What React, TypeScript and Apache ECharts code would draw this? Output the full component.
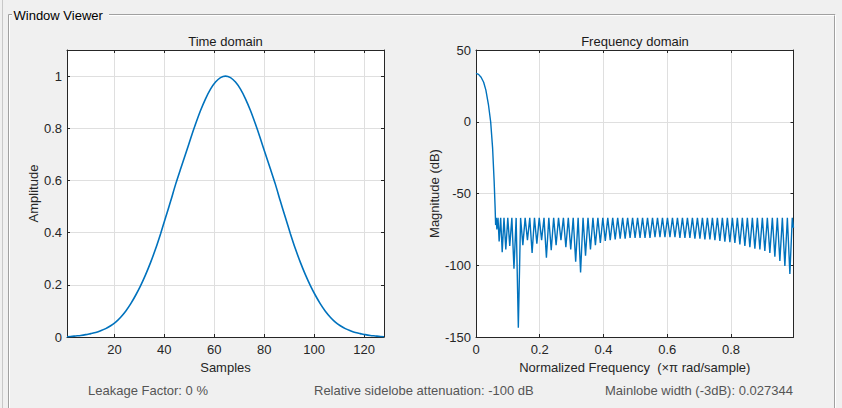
import React, { useEffect, useRef } from "react";
import * as echarts from "echarts";

// ---------- data ----------
const timeSamples = [
  1, 2.5, 4.5, 6.5, 8.5, 10.5, 12.5, 14.5, 16.5, 18.5, 20.5, 22.5, 24.5, 26.5, 28.5, 30.5, 32.5,
  34.5, 36.5, 38.5, 40.5, 42.5, 44.5, 46.5, 48.5, 50.5, 52.5, 54.5, 56.5, 58.5, 60.5, 62.5, 64.5,
  66.5, 68.5, 70.5, 72.5, 74.5, 76.5, 78.5, 80.5, 82.5, 84.5, 86.5, 88.5, 90.5, 92.5, 94.5, 96.5,
  98.5, 100.5, 102.5, 104.5, 106.5, 108.5, 110.5, 112.5, 114.5, 116.5, 118.5, 120.5, 122.5, 124.5, 126.5, 128,
];
const timeAmplitude = [
  0.001, 0.002, 0.004, 0.006, 0.009, 0.013, 0.017, 0.024, 0.032, 0.043, 0.057, 0.076, 0.099, 0.127, 0.16, 0.197, 0.239,
  0.286, 0.338, 0.396, 0.458, 0.52, 0.585, 0.644, 0.701, 0.76, 0.816, 0.868, 0.913, 0.95, 0.977, 0.994, 1.0,
  0.994, 0.977, 0.95, 0.913, 0.868, 0.816, 0.76, 0.701, 0.644, 0.585, 0.52, 0.458, 0.396, 0.338, 0.286, 0.239,
  0.197, 0.16, 0.127, 0.099, 0.076, 0.057, 0.043, 0.032, 0.024, 0.017, 0.013, 0.009, 0.006, 0.004, 0.002, 0.001,
];

const mainLobeFreq = [0, 0.008, 0.016, 0.024, 0.031, 0.039, 0.046, 0.052, 0.057, 0.06];
const mainLobeDb = [33.7, 33, 31, 27.5, 22, 12, 0, -18, -42, -60];

const sidelobeNullFreq = [
  0.0616, 0.0655, 0.0726, 0.0822, 0.0935, 0.1059, 0.1191, 0.1328, 0.147, 0.1614,
  0.176, 0.1909, 0.2058, 0.2209, 0.236, 0.2513, 0.2665, 0.2819, 0.2972, 0.3127,
  0.3281, 0.3436, 0.3591, 0.3746, 0.3901, 0.4056, 0.4211, 0.4367, 0.4523, 0.4679,
  0.4834, 0.4991, 0.5147, 0.5303, 0.5459, 0.5616, 0.5772, 0.5928, 0.6085, 0.6242,
  0.6398, 0.6555, 0.6711, 0.6868, 0.7025, 0.7181, 0.7338, 0.7495, 0.7651, 0.7808,
  0.7965, 0.8122, 0.8278, 0.8435, 0.8592, 0.8749, 0.8906, 0.9062, 0.9219, 0.9376,
  0.9533, 0.969, 0.9847,
];
const sidelobeNullDb = [
  -72, -75, -83.5, -91, -89, -86.5, -102.5, -143.5, -86, -82.5,
  -91.5, -85, -82.5, -94.7, -89.5, -86, -82.5, -87.5, -89, -97.5,
  -105, -93.3, -89, -86, -84.5, -83, -82.5, -82, -81.5, -81.5,
  -81, -81, -81, -81, -81, -80.5, -80.5, -80.5, -80.5, -80.5,
  -81, -81, -81, -81.5, -81.5, -82, -82, -82.5, -83, -83.5,
  -84, -84.5, -85.5, -86.5, -87.5, -88.5, -89, -90, -91.5, -94,
  -97, -100.5, -106,
];
const sidelobePeakDb = -67;
const tailFreq = [0.9923, 0.99609375];
const tailDb = [-67, -74];

const timeTicks = { min: 1, max: 128 };
const freqTicks = { min: 0, max: 0.99609375, interval: 0.2 };
const ampTicks = { min: 0, max: 1.1, interval: 0.2 };
const dbTicks = { min: -150, max: 50, interval: 50 };

const infoTexts = [
  "Leakage Factor: 0 %",
  "Relative sidelobe attenuation: -100 dB",
  "Mainlobe width (-3dB): 0.027344",
];

// ---------- styles ----------
const FONT = '"Liberation Sans", Arial, sans-serif';
const AX = "#262626";
const GRIDC = "#dfdfdf";
const LINE = "#0072bd";

function buildOption() {
  const timeData = timeSamples.map((s, i) => [s, timeAmplitude[i]]);
  const freqData: number[][] = [];
  mainLobeFreq.forEach((f, i) => freqData.push([f, mainLobeDb[i]]));
  sidelobeNullFreq.forEach((f, i) => {
    freqData.push([f, sidelobeNullDb[i]]);
    if (i + 1 < sidelobeNullFreq.length) {
      freqData.push([(f + sidelobeNullFreq[i + 1]) / 2, sidelobePeakDb]);
    }
  });
  tailFreq.forEach((f, i) => freqData.push([f, tailDb[i]]));

  const labelStyle = { color: AX, fontSize: 13, fontFamily: FONT };
  const axisLine = { show: true, onZero: false, lineStyle: { color: AX, width: 1 } };
  const axisTick = { show: true, inside: true, length: 3, lineStyle: { color: AX, width: 1 } };
  const splitLine = { show: true, lineStyle: { color: GRIDC, width: 1 } };
  const nameStyle = { color: AX, fontSize: 13, fontFamily: FONT };

  const mkAxis = (grid: number, pos: string, extra: any, main: boolean, labelExtra: any, margin: number) => ({
    type: "value",
    gridIndex: grid,
    position: pos,
    ...extra,
    axisLine,
    axisTick,
    axisLabel: main ? { ...labelStyle, margin, ...labelExtra } : { show: false },
    splitLine: main ? splitLine : { show: false },
  });

  const timeX = { min: timeTicks.min, max: timeTicks.max, splitNumber: 6, minInterval: 20, maxInterval: 20 };
  const freqX = { ...freqTicks };
  const ampY = { ...ampTicks };
  const dbY = { ...dbTicks };

  const xAxis = [
    { ...mkAxis(0, "bottom", timeX, true, { showMinLabel: false, showMaxLabel: false }, 6), name: "Samples", nameLocation: "middle", nameGap: 23, nameTextStyle: nameStyle },
    mkAxis(0, "top", timeX, false, {}, 6),
    { ...mkAxis(1, "bottom", freqX, true, { showMaxLabel: false }, 6), name: "Normalized Frequency  (\u00d7\u03c0 rad/sample)", nameLocation: "middle", nameGap: 23, nameTextStyle: nameStyle },
    mkAxis(1, "top", freqX, false, {}, 6),
  ];
  const yAxis = [
    { ...mkAxis(0, "left", ampY, true, { showMaxLabel: false }, 5), name: "Amplitude", nameLocation: "middle", nameGap: 19, nameTextStyle: nameStyle },
    mkAxis(0, "right", ampY, false, {}, 5),
    { ...mkAxis(1, "left", dbY, true, {}, 5), name: "Magnitude (dB)", nameLocation: "middle", nameGap: 30, nameTextStyle: nameStyle },
    mkAxis(1, "right", dbY, false, {}, 5),
  ];

  const txt = (text: string, x: number, y: number, fill: string, align = "left") => ({
    type: "text",
    x,
    y,
    silent: true,
    style: { text, fill, font: `13px ${FONT}`, align, verticalAlign: "middle" },
  });
  const ln = (x1: number, y1: number, x2: number, y2: number, stroke: string) => ({
    type: "line",
    silent: true,
    shape: { x1, y1, x2, y2 },
    style: { stroke, lineWidth: 1 },
  });

  const graphic = [
    // panel etched border
    ln(8.5, 14.5, 12, 14.5, "#a0a0a0"),
    ln(109, 14.5, 835.5, 14.5, "#a0a0a0"),
    ln(9.5, 15.5, 12, 15.5, "#ffffff"),
    ln(109, 15.5, 834.5, 15.5, "#ffffff"),
    ln(8.5, 14.5, 8.5, 408, "#a0a0a0"),
    ln(9.5, 15.5, 9.5, 408, "#ffffff"),
    ln(834.5, 15.5, 834.5, 408, "#a0a0a0"),
    ln(835.5, 14.5, 835.5, 408, "#ffffff"),
    ln(2.5, 0, 2.5, 408, "#c8c8c8"),
    txt("Window Viewer", 13.5, 15, "#000000"),
    txt("Time domain", 225.5, 41, "#1a1a1a", "center"),
    txt("Frequency domain", 635, 41, "#1a1a1a", "center"),
    txt(infoTexts[0], 88, 390, "#555555"),
    txt(infoTexts[1], 314, 390, "#555555"),
    txt(infoTexts[2], 605, 390, "#555555"),
  ];

  return {
    animation: false,
    backgroundColor: "#f0f0f0",
    grid: [
      { left: 67, top: 50, width: 317, height: 287, show: true, backgroundColor: "#ffffff", borderWidth: 0, containLabel: false, outerBoundsMode: "none" },
      { left: 476, top: 50, width: 317.5, height: 287, show: true, backgroundColor: "#ffffff", borderWidth: 0, containLabel: false, outerBoundsMode: "none" },
    ],
    xAxis,
    yAxis,
    series: [
      {
        type: "line",
        xAxisIndex: 0,
        yAxisIndex: 0,
        data: timeData,
        showSymbol: false,
        smooth: 0.3,
        lineStyle: { color: LINE, width: 1.6 },
        clip: true,
      },
      {
        type: "line",
        xAxisIndex: 2,
        yAxisIndex: 2,
        data: freqData,
        showSymbol: false,
        lineStyle: { color: LINE, width: 1.4 },
        clip: true,
      },
    ],
    graphic,
  };
}

export default function App() {
  const ref = useRef<HTMLDivElement>(null);
  useEffect(() => {
    if (!ref.current) return;
    const chart = echarts.init(ref.current, null, { renderer: "svg" });
    chart.setOption(buildOption() as any);
    return () => chart.dispose();
  }, []);
  return (
    <div
      ref={ref}
      style={{ position: "fixed", left: 0, top: 0, width: 842, height: 408, background: "#f0f0f0" }}
    />
  );
}
